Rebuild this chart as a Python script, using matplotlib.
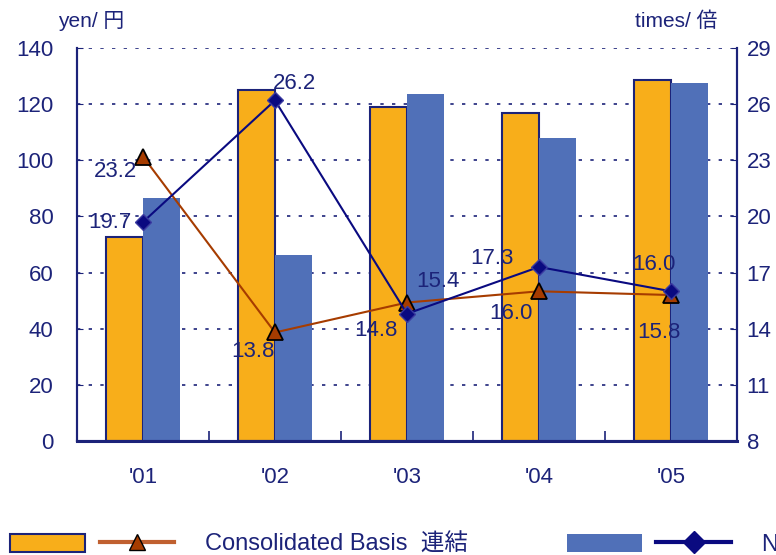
import numpy as np
from matplotlib import pyplot as plt
from matplotlib.patches import Patch
from matplotlib.lines import Line2D
from matplotlib.legend_handler import HandlerTuple

plt.rcParams['font.family'] = ['Liberation Sans', 'Noto Sans CJK JP', 'DejaVu Sans']

years = ["'01", "'02", "'03", "'04", "'05"]
# yen (left axis)
cons_bar = [72.7, 125.0, 119.0, 116.8, 128.6]
nonc_bar = [86.6, 66.3, 123.6, 107.9, 127.5]
# times (right axis)
cons_line = [23.2, 13.8, 15.4, 16.0, 15.8]
nonc_line = [19.7, 26.2, 14.8, 17.3, 16.0]

NAVY = '#1c2379'
ORANGE = '#f8ae1a'
BLUE = '#5070b8'
BROWN = '#a63c00'
LINE_NAVY = '#0a0a80'


def plotter():
    fig = plt.figure(figsize=(7.76, 5.55), dpi=100)
    ax = fig.add_axes([0.0992, 0.2054, 0.8505, 0.7081])
    x = np.arange(len(years))
    w = 0.28

    ax.bar(x - w / 2, cons_bar, width=w, color=ORANGE, edgecolor=NAVY, linewidth=1.5, zorder=2)
    ax.bar(x + w / 2, nonc_bar, width=w, color=BLUE, edgecolor='none', zorder=2)

    ax.set_xlim(-0.5, 4.5)
    ax.set_ylim(0, 140)
    ax.set_yticks(np.arange(0, 141, 20))
    ax.set_xticks(x)
    ax.set_xticklabels(years)
    ax.set_xticks(x[:-1] + 0.5, minor=True)
    ax.grid(axis='y', color=NAVY, linestyle=(0, (2, 5)), linewidth=1.2, zorder=0)
    ax.set_axisbelow(True)

    ax2 = ax.twinx()
    ax2.set_ylim(8, 29)
    ax2.set_yticks(np.arange(8, 30, 3))
    ax2.plot(x, cons_line, color=BROWN, lw=1.5, marker='^', ms=11,
             markerfacecolor=BROWN, markeredgecolor='black', markeredgewidth=1.3, zorder=3)
    ax2.plot(x, nonc_line, color=LINE_NAVY, lw=1.5, marker='D', ms=8,
             markerfacecolor=LINE_NAVY, markeredgecolor='#3a3aa0', zorder=4)

    # data labels (offsets in points)
    cons_off = [(-20, -11), (-16, -14), (22, 15), (-20, -16), (-9, -27)]
    nonc_off = [(-24, 0), (14, 12), (-22, -12), (-34, 6), (-12, 19)]
    for i in range(len(years)):
        ax2.annotate('%.1f' % cons_line[i], (x[i], cons_line[i]), xytext=cons_off[i],
                     textcoords='offset points', ha='center', va='center', fontsize=16, color=NAVY, zorder=5)
        ax2.annotate('%.1f' % nonc_line[i], (x[i], nonc_line[i]), xytext=nonc_off[i],
                     textcoords='offset points', ha='center', va='center', fontsize=16, color=NAVY, zorder=5)

    for a in (ax, ax2):
        a.spines['top'].set_visible(False)
        for s in ('left', 'right', 'bottom'):
            a.spines[s].set_color(NAVY)
            a.spines[s].set_linewidth(1.5)
    ax.spines['bottom'].set_linewidth(2.2)
    ax.tick_params(axis='y', direction='in', length=4, color=NAVY, labelcolor=NAVY, labelsize=16, pad=17)
    ax.tick_params(axis='x', which='major', length=0, labelcolor=NAVY, labelsize=16, pad=19)
    ax.tick_params(axis='x', which='minor', direction='in', length=7, color=NAVY, width=1.2)
    ax2.tick_params(axis='y', direction='in', length=4, color=NAVY, labelcolor=NAVY, labelsize=16, pad=7)

    fig.text(0.075, 0.962, 'yen/ 円', color=NAVY, fontsize=15, va='center')
    fig.text(0.818, 0.962, 'times/ 倍', color=NAVY, fontsize=15, va='center')

    h1 = (Patch(facecolor=ORANGE, edgecolor=NAVY, linewidth=1.5),
          Line2D([], [], color='#c06030', lw=3, marker='^', ms=11,
                 markerfacecolor=BROWN, markeredgecolor='black'))
    h2 = (Patch(facecolor=BLUE, edgecolor='none'),
          Line2D([], [], color=LINE_NAVY, lw=3, marker='D', ms=11,
                 markerfacecolor=LINE_NAVY, markeredgecolor=LINE_NAVY))
    fig.legend([h1, h2], ['Consolidated Basis  連結', 'Non-consolidated Basis  単独'],
               handler_map={tuple: HandlerTuple(ndivide=None, pad=0.6)},
               loc='lower left', bbox_to_anchor=(-0.014, -0.04), ncol=2, frameon=False,
               fontsize=17, handlelength=6.95, handleheight=0.8, handletextpad=1.3,
               columnspacing=4.2, labelcolor=NAVY)

    fig.savefig('out.png', dpi=100)


if __name__ == '__main__':
    plotter()
